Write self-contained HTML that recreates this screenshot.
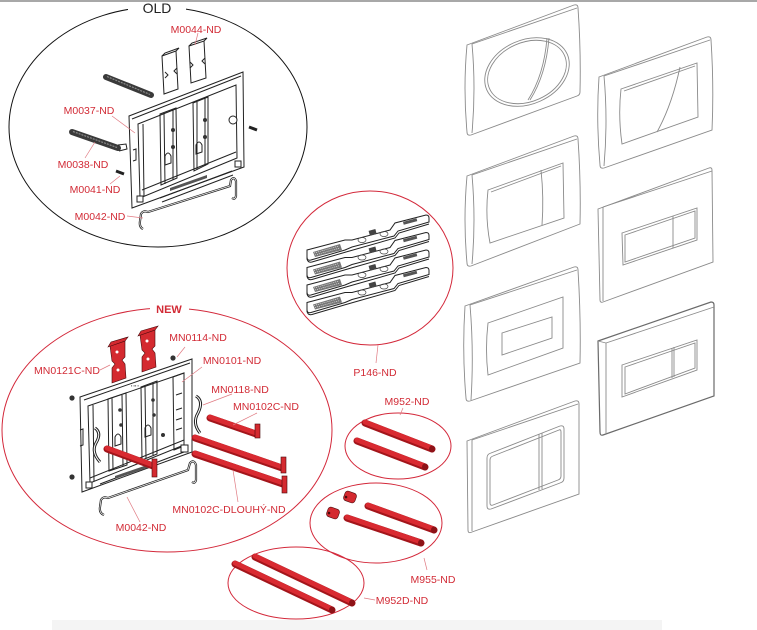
<!DOCTYPE html>
<html><head><meta charset="utf-8"><style>
html,body{margin:0;padding:0;background:#fff;}
svg{display:block;}
text{font-family:"Liberation Sans",sans-serif;}
.lbl{fill:#d22b36;font-size:10.5px;text-anchor:middle;}
.ld{stroke:#e07a82;stroke-width:0.7;fill:none;}
.pn{fill:none;stroke:#8a8a8a;stroke-width:0.9;}
.bk{fill:none;stroke:#222;stroke-width:1;}
.bkf{fill:#fff;stroke:#222;stroke-width:1;}
.rodd{stroke:#a3151b;stroke-width:7;stroke-linecap:round;fill:none;}
.rodr{stroke:#d92a31;stroke-width:4.8;stroke-linecap:round;fill:none;}
.rc{fill:#d42a30;stroke:#4a0a0c;stroke-width:0.6;}
</style></head><body>
<svg width="757" height="630" viewBox="0 0 757 630" xmlns="http://www.w3.org/2000/svg">
<rect x="0" y="0" width="757" height="630" fill="#fff"/>
<rect x="0" y="0" width="757" height="2" fill="#a8a8a8"/>
<rect x="52" y="620" width="610" height="10" fill="#f4f4f4"/>

<!-- ===== OLD ellipse ===== -->
<ellipse cx="158" cy="127" rx="149" ry="120" fill="none" stroke="#111" stroke-width="1"/>
<rect x="128" y="3" width="58" height="10" fill="#fff"/>
<text x="157" y="13" font-size="14" text-anchor="middle" fill="#222">OLD</text>

<!-- OLD clips -->
<path class="bkf" d="M162,56 L176,51 L178,89 L164,94 Z"/>
<path class="bk" d="M162,56 L165,53 L179,48 L176,51"/>
<path class="bk" d="M165,72 L168,75 L165,78 M177,68 L174,71 L177,74"/>
<path class="bkf" d="M189,46 L204,41 L206,78 L191,83 Z"/>
<path class="bk" d="M189,46 L192,43 L207,38 L204,41"/>
<path class="bk" d="M190,62 L193,65 L190,68 M205,58 L202,61 L205,64"/>
<line x1="195" y1="45" x2="198" y2="33" class="ld"/>

<!-- OLD bars -->
<line x1="106" y1="77" x2="151" y2="95" stroke="#3a3a3a" stroke-width="6" stroke-linecap="round"/>
<line x1="107" y1="76.5" x2="150" y2="94.5" stroke="#8a8a8a" stroke-width="1.2" stroke-dasharray="2 1"/>
<line x1="72" y1="132" x2="118" y2="148" stroke="#3a3a3a" stroke-width="6" stroke-linecap="round"/>
<line x1="73" y1="131.5" x2="117" y2="147.5" stroke="#8a8a8a" stroke-width="1.2" stroke-dasharray="2 1"/>
<path class="bk" d="M118,145 L126,144 L127,149 L119,151"/>

<!-- OLD frame -->
<path class="bkf" stroke-width="1.3" d="M129,116 L243,72 L244,167 L132,208 Z"/>
<path class="bk" d="M132,119 L241,76"/>
<path class="bk" d="M138,124 L236,85 L237,158 L140,198 Z"/>
<path class="bk" d="M143,124 L144,196"/>
<path class="bk" d="M142,190 L236,152"/>
<path class="bk" d="M160,114 L176,108 L177,178 L161,185 Z"/>
<path class="bk" d="M164,113 L165,184 M173,109 L173,180"/>
<path class="bk" d="M193,103 L208,97 L208,164 L194,171 Z"/>
<path class="bk" d="M197,102 L197,170 M205,98 L205,166"/>
<circle cx="173" cy="130" r="2" fill="#333"/><circle cx="173" cy="147" r="2" fill="#333"/>
<circle cx="205" cy="120" r="2" fill="#333"/><circle cx="205" cy="137" r="2" fill="#333"/>
<path class="bk" d="M165,156 Q168,150 171,156 L171,163 L165,165 Z"/>
<path class="bk" d="M196,145 Q199,139 202,145 L202,152 L196,154 Z"/>
<circle cx="233" cy="120" r="4" class="bkf"/>
<path class="bk" d="M160,198 L232,171 M162,202 L233,175"/>
<path d="M170,188 L207,175 L207,178 L170,191 Z" fill="#555"/>
<rect x="137" y="196" width="6" height="6" class="bkf"/>
<rect x="235" y="161" width="6" height="6" class="bkf"/>
<path class="bk" d="M133,150 L136,149 L136,160 L133,161"/>
<!-- screws -->
<path d="M116,171 L124,174" stroke="#222" stroke-width="3"/>
<path d="M249,127 L257,130" stroke="#222" stroke-width="3"/>
<!-- OLD wire -->
<path d="M143,229 Q139,227 140,221 L141,214 Q143,210 148,212 L230,186 L231,180 Q234,176 236,181 L236,196 Q235,200 232,198" fill="none" stroke="#222" stroke-width="2.2"/>
<path d="M143,229 Q139,227 140,221 L141,214 Q143,210 148,212 L230,186 L231,180 Q234,176 236,181 L236,196 Q235,200 232,198" fill="none" stroke="#fff" stroke-width="0.7"/>

<!-- OLD labels -->
<text class="lbl" x="196" y="33">M0044-ND</text>
<text class="lbl" x="89" y="114">M0037-ND</text>
<line class="ld" x1="112" y1="116" x2="135" y2="133"/>
<text class="lbl" x="83" y="168">M0038-ND</text>
<line class="ld" x1="85" y1="158" x2="95" y2="142"/>
<text class="lbl" x="95" y="193">M0041-ND</text>
<line class="ld" x1="110" y1="184" x2="120" y2="176"/>
<text class="lbl" x="100" y="220">M0042-ND</text>
<line class="ld" x1="127" y1="216" x2="143" y2="218"/>

<!-- ===== P146 circle ===== -->
<ellipse cx="370" cy="268" rx="83" ry="77" fill="none" stroke="#d3283a" stroke-width="1"/>
<g id="plate">
<path class="bkf" d="M307,250 L345,240 L352,240 L390,230 L395,223 L426,215 Q429,215 429,218 L429,222 L398,231 L394,236 L352,247 L345,250 L311,260 Q307,261 307,257 Z"/>
<path class="bk" d="M307,257 L307,259 Q308,263 312,262 L346,252 L353,250 L395,238 L399,233 L429,224"/>
<path d="M313,252 L340,244 L342,250 L315,257 Z" fill="#777"/>
<path d="M314,253 L339,246 M315,255 L340,248" stroke="#fff" stroke-width="0.6" stroke-dasharray="1 1"/>
<rect x="369" y="230" width="7" height="5" fill="#444" transform="rotate(-15 372 232)"/>
<ellipse cx="362" cy="240" rx="4" ry="2.5" fill="none" stroke="#444" stroke-width="0.7"/>
<ellipse cx="384" cy="234" rx="4" ry="2.5" fill="none" stroke="#444" stroke-width="0.7"/>
<rect x="403" y="220" width="14" height="3" fill="#555" transform="rotate(-15 410 221)"/>
</g>
<use href="#plate" transform="translate(0,17.5)"/>
<use href="#plate" transform="translate(0,35)"/>
<use href="#plate" transform="translate(0,52.5)"/>
<line class="ld" x1="378" y1="345" x2="376" y2="363"/>
<text class="lbl" x="375" y="376">P146-ND</text>

<!-- ===== NEW ellipse ===== -->
<ellipse cx="167" cy="430" rx="165" ry="122" fill="none" stroke="#d3283a" stroke-width="1"/>
<rect x="150" y="302" width="39" height="12" fill="#fff"/>
<text x="169" y="313" font-size="11" font-weight="bold" text-anchor="middle" fill="#d22b36">NEW</text>

<!-- NEW frame -->
<path class="bkf" stroke-width="1.3" d="M80,397 L192,359 L192,452 L82,492 Z"/>
<path class="bk" d="M84,400 L190,363"/>
<path class="bk" d="M88,406 L184,373 L184,445 L90,483 Z"/>
<path class="bk" d="M93,405 L94,481"/>
<path class="bk" d="M108,399 L126,393 L127,465 L109,471 Z"/>
<path class="bk" d="M112,398 L113,470 M122,395 L123,466"/>
<path class="bk" d="M141,387 L157,381 L157,454 L142,460 Z"/>
<path class="bk" d="M145,386 L146,458 M153,383 L153,455"/>
<path class="bk" d="M173,377 L184,373 L184,446 L174,450 Z"/>
<circle cx="120" cy="410" r="1.8" fill="#333"/><circle cx="121" cy="425" r="1.8" fill="#333"/>
<circle cx="153" cy="400" r="1.8" fill="#333"/><circle cx="154" cy="415" r="1.8" fill="#333"/>
<path class="bk" d="M115,437 Q118,431 121,437 L121,444 L115,446 Z"/>
<path class="bk" d="M145,428 Q148,422 151,428 L151,435 L145,437 Z"/>
<circle cx="163" cy="435" r="2" fill="#333"/>
<path class="bk" d="M176,395 L182,393 M176,410 L182,408 M176,420 L182,418 M176,430 L182,428"/>
<path class="bk" d="M90,478 L184,440 M100,484 L184,452"/>
<path d="M115,476 L150,464 L150,467 L115,479 Z" fill="#555"/>
<rect x="86" y="482" width="6" height="6" class="bkf"/>
<rect x="181" y="445" width="7" height="7" class="bkf"/>
<path class="bk" d="M80,430 L83,429 L83,445 L80,446"/>
<text x="131" y="387" font-size="4" fill="#333">▪ ▪▪ ▪</text>
<!-- screws -->
<circle cx="72" cy="398" r="2.6" fill="#333"/>
<circle cx="173" cy="358" r="2.6" fill="#333"/>
<circle cx="72" cy="477" r="2.6" fill="#333"/>
<!-- S springs -->
<path d="M95,428 Q102,433 96,443 Q91,452 100,462" fill="none" stroke="#222" stroke-width="3"/>
<path d="M95,428 Q102,433 96,443 Q91,452 100,462" fill="none" stroke="#fff" stroke-width="1"/>
<path d="M196,396 Q204,401 198,413 Q192,423 200,433" fill="none" stroke="#222" stroke-width="3"/>
<path d="M196,396 Q204,401 198,413 Q192,423 200,433" fill="none" stroke="#fff" stroke-width="1"/>
<!-- red clips -->
<path class="rc" d="M110,346 L125,341 L125,357 L122,360 L125,364 L126,378 L112,383 L112,368 L115,364 L112,361 Z"/>
<path class="rc" d="M108,347 L111,342 L128,337 L125,341 Z"/>
<circle cx="117" cy="352" r="1.5" fill="#fff"/><circle cx="118" cy="370" r="1.5" fill="#fff"/>
<path class="rc" d="M140,335 L155,330 L155,346 L152,349 L155,353 L156,367 L142,372 L142,357 L145,353 L142,350 Z"/>
<path class="rc" d="M138,336 L141,331 L158,326 L155,330 Z"/>
<circle cx="147" cy="341" r="1.5" fill="#fff"/><circle cx="148" cy="359" r="1.5" fill="#fff"/>
<!-- red bars NEW -->
<line class="rodd" x1="107" y1="449" x2="153" y2="466"/><line class="rodr" x1="107" y1="448" x2="153" y2="465"/>
<rect x="152" y="459" width="5" height="18" class="rc"/>
<line class="rodd" x1="210" y1="418" x2="256" y2="434"/><line class="rodr" x1="210" y1="417" x2="256" y2="433"/>
<rect x="255" y="424" width="5" height="14" class="rc"/>
<line class="rodd" x1="195" y1="438" x2="282" y2="468"/><line class="rodr" x1="195" y1="437" x2="282" y2="467"/>
<rect x="281" y="457" width="5" height="16" class="rc"/>
<line class="rodd" x1="195" y1="454" x2="283" y2="484"/><line class="rodr" x1="195" y1="453" x2="283" y2="483"/>
<rect x="282" y="476" width="5" height="17" class="rc"/>
<!-- NEW wire -->
<path d="M104,515 Q99,513 100,507 L101,500 Q103,496 108,498 L188,470 L190,463 Q194,459 196,465 L196,480 Q195,484 192,482" fill="none" stroke="#222" stroke-width="2.2"/>
<path d="M104,515 Q99,513 100,507 L101,500 Q103,496 108,498 L188,470 L190,463 Q194,459 196,465 L196,480 Q195,484 192,482" fill="none" stroke="#fff" stroke-width="0.7"/>

<!-- NEW labels -->
<text class="lbl" x="198" y="341">MN0114-ND</text>
<line class="ld" x1="185" y1="347" x2="177" y2="357"/>
<text class="lbl" x="67" y="374">MN0121C-ND</text>
<line class="ld" x1="100" y1="370" x2="110" y2="365"/>
<text class="lbl" x="232" y="364">MN0101-ND</text>
<line class="ld" x1="202" y1="367" x2="182" y2="382"/>
<text class="lbl" x="240" y="393">MN0118-ND</text>
<line class="ld" x1="232" y1="394" x2="203" y2="405"/>
<text class="lbl" x="266" y="410">MN0102C-ND</text>
<line class="ld" x1="257" y1="413" x2="233" y2="425"/>
<text class="lbl" x="229" y="513">MN0102C-DLOUHÝ-ND</text>
<line class="ld" x1="238" y1="502" x2="233" y2="470"/>
<text class="lbl" x="141" y="531">M0042-ND</text>
<line class="ld" x1="140" y1="522" x2="127" y2="497"/>

<!-- ===== M952 ===== -->
<ellipse cx="398" cy="446" rx="53" ry="33" fill="none" stroke="#d3283a" stroke-width="1"/>
<line class="rodd" x1="365" y1="423" x2="432" y2="449"/><line class="rodr" x1="365" y1="422" x2="432" y2="448"/>
<ellipse cx="432" cy="449" rx="3" ry="3.5" fill="#8e1217"/>
<line class="rodd" x1="357" y1="441" x2="425" y2="467"/><line class="rodr" x1="357" y1="440" x2="425" y2="466"/>
<ellipse cx="425" cy="467" rx="3" ry="3.5" fill="#8e1217"/>
<text class="lbl" x="407" y="405">M952-ND</text>
<line class="ld" x1="403" y1="408" x2="400" y2="415"/>

<!-- ===== M955 ===== -->
<ellipse cx="376" cy="523" rx="66" ry="40" fill="none" stroke="#d3283a" stroke-width="1"/>
<rect x="344" y="492" width="12" height="10" rx="3" class="rc" transform="rotate(20 350 497)"/>
<circle cx="346" cy="497" r="1.3" fill="#4a0a0c"/>
<rect x="327" y="508" width="12" height="10" rx="3" class="rc" transform="rotate(20 333 513)"/>
<circle cx="329" cy="513" r="1.3" fill="#4a0a0c"/>
<line class="rodd" x1="368" y1="506" x2="434" y2="530"/><line class="rodr" x1="368" y1="505" x2="434" y2="529"/>
<ellipse cx="434" cy="530" rx="3" ry="3.5" fill="#8e1217"/>
<line class="rodd" x1="347" y1="518" x2="421" y2="543"/><line class="rodr" x1="347" y1="517" x2="421" y2="542"/>
<ellipse cx="421" cy="543" rx="3" ry="3.5" fill="#8e1217"/>
<text class="lbl" x="433" y="583">M955-ND</text>
<line class="ld" x1="427" y1="570" x2="424" y2="558"/>

<!-- ===== M952D ===== -->
<ellipse cx="296" cy="583" rx="68" ry="36" fill="none" stroke="#d3283a" stroke-width="1"/>
<line class="rodd" x1="255" y1="557" x2="352" y2="603"/><line class="rodr" x1="255" y1="556" x2="352" y2="602"/>
<ellipse cx="352" cy="603" rx="3" ry="3.5" fill="#8e1217"/>
<line class="rodd" x1="235" y1="564" x2="332" y2="610"/><line class="rodr" x1="235" y1="563" x2="332" y2="609"/>
<ellipse cx="332" cy="610" rx="3" ry="3.5" fill="#8e1217"/>
<text class="lbl" x="402" y="604">M952D-ND</text>
<line class="ld" x1="364" y1="598" x2="375" y2="600"/>

<!-- ===== Panels ===== -->
<!-- P1 -->
<path class="pn" d="M467,45 L574,5 Q578,4 578,8 Q581,50 580,92 Q580,95 577,96 L471,135 Q467,136 467,132 Q463,88 467,45 Z"/>
<path class="pn" d="M472,44 Q476,88 472,133"/>
<path class="pn" d="M472,44 L577,8"/>
<ellipse class="pn" cx="527" cy="72" rx="44" ry="32" transform="rotate(-24 527 72)"/>
<ellipse class="pn" cx="527" cy="72" rx="41" ry="29.5" transform="rotate(-24 527 72)"/>
<path class="pn" d="M547,38 Q544,75 528,100"/>
<path class="pn" d="M549,38 Q546,75 530,100"/>
<!-- P2 -->
<path class="pn" d="M599,77 L707,37 Q711,36 711,40 Q714,86 712,130 L604,168 Q600,169 600,165 Q596,120 599,77 Z"/>
<path class="pn" d="M604,76 Q608,120 604,166"/>
<path class="pn" d="M604,76 L710,40"/>
<path class="pn" d="M621,89 L697,63 L698,117 L622,144 Q618,116 621,89 Z"/>
<path class="pn" d="M624,91 L695,66"/>
<path class="pn" d="M680,67 Q672,105 657,132"/>
<!-- P3 -->
<path class="pn" d="M467,176 L574,136 Q578,135 578,139 Q581,182 580,224 L471,266 Q467,267 467,263 Q463,220 467,176 Z"/>
<path class="pn" d="M472,175 Q476,220 472,264"/>
<path class="pn" d="M472,175 L577,139"/>
<path class="pn" d="M488,190 L563,163 L564,218 L490,243 Q485,217 488,190 Z"/>
<path class="pn" d="M491,192 L561,166"/>
<path class="pn" d="M541,170 Q544,198 542,225"/>
<!-- P4 -->
<path class="pn" d="M598,209 L709,168 Q712,167 712,170 L713,262 L603,302 Q600,303 600,300 Z"/>
<path class="pn" d="M603,207 L603,301"/>
<path class="pn" d="M603,207 L712,171"/>
<path class="pn" d="M622,233 L697,208 L697,240 L623,265 Z"/>
<path class="pn" d="M625,235 L695,211 L695,238 L625,262 Z"/>
<path class="pn" d="M673,216 L673,248"/>
<!-- P5 -->
<path class="pn" d="M465,306 L574,267 Q578,266 578,270 Q581,318 580,363 L470,401 Q466,402 466,398 Q462,352 465,306 Z"/>
<path class="pn" d="M470,305 Q474,352 471,400"/>
<path class="pn" d="M470,305 L577,270"/>
<path class="pn" d="M488,323 L563,297 L563,348 L488,375 Q485,349 488,323 Z"/>
<path class="pn" d="M502,333 L552,317 L552,338 L502,355 Z"/>
<!-- P6 -->
<path fill="none" stroke="#6a6a6a" stroke-width="1.2" d="M598,341 L711,302 Q714,302 714,305 L714,396 L603,435 Q600,436 600,432 Z"/>
<path class="pn" d="M606,343 L606,434"/>
<path class="pn" d="M606,343 L714,307"/>
<path class="pn" d="M598,341 L606,343"/>
<path class="pn" d="M622,365 L697,340 L697,370 L622,397 Z"/>
<path class="pn" d="M625,367 L695,343 L695,368 L625,394 Z"/>
<path class="pn" d="M672,348 L672,378 M674,347 L674,377"/>
<!-- P7 -->
<path class="pn" d="M467,441 L575,401 Q579,400 579,404 L579,494 L472,532 Q468,534 468,530 Z"/>
<path class="pn" d="M472,440 L472,531"/>
<path class="pn" d="M472,440 L578,404"/>
<path class="pn" d="M491,453 L560,426 Q564,425 564,429 L564,478 Q564,482 560,483 L491,509 Q487,510 487,506 L487,458 Q487,454 491,453 Z"/>
<path class="pn" d="M493,456 L559,430 Q561,429 561,432 L561,476 Q561,479 558,480 L493,505 Q490,506 490,503 L490,460 Q490,457 493,456 Z"/>
<path class="pn" d="M539,434 L539,490 M542,433 L542,489"/>
</svg>
</body></html>
